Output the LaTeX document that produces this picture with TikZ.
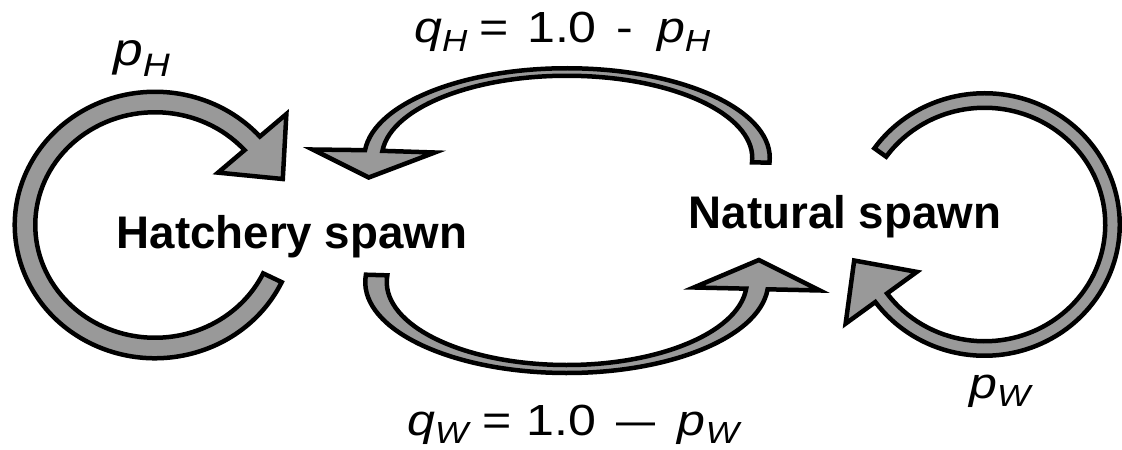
\documentclass[tikz,border=0pt]{standalone}
\usepackage{fontspec}
\setmainfont{Liberation Sans}
\usepackage{graphicx}
\usepackage{tikz}
\usetikzlibrary{calc,positioning}
\definecolor{arrowgrey}{RGB}{153,153,153}
\newcommand{\probsub}[1]{\textsubscript{\itshape #1}}
\newcommand{\widetext}[1]{\scalebox{1.15}[1]{#1}}

\begin{document}
\begin{tikzpicture}[
    x=0.025cm, y=0.025cm,
    blockarrow/.style={draw=black, fill=arrowgrey, line width=3.2pt, line join=miter},
    state/.style={font=\fontsize{32.5}{36}\selectfont\bfseries, inner sep=0pt, anchor=base},
    prob/.style={font=\fontsize{31}{34}\selectfont, inner sep=0pt, anchor=base west}
]
    \useasboundingbox (0,0) rectangle (1122,449);

    % centres of the curved arrows
    \coordinate (hloop) at (155,224);
    \coordinate (wloop) at (984.5,224.5);
    \coordinate (toparc) at (567,291);
    \coordinate (botarc) at (566.75,167);

    % hatchery -> hatchery
    \filldraw[blockarrow] ($(hloop)+(-25.4:140.25 and 133.25)$)
        arc[start angle=-25.4, end angle=-318.4, x radius=140.25, y radius=133.25]
        -- ($(hloop)+(41.6:130 and 123)+(40.6:45)$)
        -- ($(hloop)+(41.6:130 and 123)+(-49.4:47)$)
        -- ($(hloop)+(41.6:130 and 123)+(220.6:45)$)
        -- ($(hloop)+(41.6:119.75 and 112.75)$)
        arc[start angle=41.6, end angle=334.6, x radius=119.75, y radius=112.75]
        -- cycle;

    % natural -> natural
    \filldraw[blockarrow] ($(wloop)+(144.5:135.25 and 131.25)$)
        arc[start angle=144.5, end angle=-143.8, x radius=135.25, y radius=131.25]
        -- ($(wloop)+(-143.8:128 and 124)+(216:44)$)
        -- ($(wloop)+(-143.8:128 and 124)+(126:46)$)
        -- ($(wloop)+(-143.8:128 and 124)+(36:44)$)
        -- ($(wloop)+(-143.8:120.75 and 116.75)$)
        arc[start angle=-143.8, end angle=144.5, x radius=120.75, y radius=116.75]
        -- cycle;

    % natural -> hatchery
    \filldraw[blockarrow] ($(toparc)+(-3:202.75 and 89.75)$)
        arc[start angle=-3, end angle=175, x radius=202.75, y radius=89.75]
        -- ($(toparc)+(175:194 and 86)+(-61,1)$)
        -- ($(toparc)+(175:194 and 86)+(-5,-27)$)
        -- ($(toparc)+(175:194 and 86)+(61,-2)$)
        -- ($(toparc)+(175:185.25 and 82.25)$)
        arc[start angle=175, end angle=-3, x radius=185.25, y radius=82.25]
        -- cycle;

    % hatchery -> natural
    \filldraw[blockarrow] ($(botarc)+(175.4:201.5 and 91)$)
        arc[start angle=175.4, end angle=355.4, x radius=201.5, y radius=91]
        -- ($(botarc)+(355.4:190.75 and 87)+(63,-1.5)$)
        -- ($(botarc)+(355.4:190.75 and 87)+(2,29)$)
        -- ($(botarc)+(355.4:190.75 and 87)+(-63,1.5)$)
        -- ($(botarc)+(355.4:180 and 83)$)
        arc[start angle=355.4, end angle=175.4, x radius=180, y radius=83]
        -- cycle;

    \node[state] (hatch) at (292,201) {Hatchery spawn};
    \node[state] (natural) at (845,221) {Natural spawn};

    \node[prob] (qh) at (414,406) {\widetext{\textit{q}\probsub{H}\hspace{6.9pt}=\hspace{11.4pt}1.0\hspace{12pt}-\hspace{14.9pt}\textit{p}\probsub{H}}};
    \node[prob] (qw) at (407,14) {\widetext{\textit{q}\probsub{W}\hspace{8pt}=\hspace{9.3pt}1.0\hspace{12.5pt}\scalebox{1.4}[1]{--}\hspace{14pt}\textit{p}\probsub{W}}};
    \node[prob, font=\fontsize{33}{36}\selectfont] (ph) at (113,383) {\widetext{\textit{p}\probsub{H}}};
    \node[prob] (pw) at (969,51) {\widetext{\textit{p}\probsub{W}}};
\end{tikzpicture}
\end{document}
